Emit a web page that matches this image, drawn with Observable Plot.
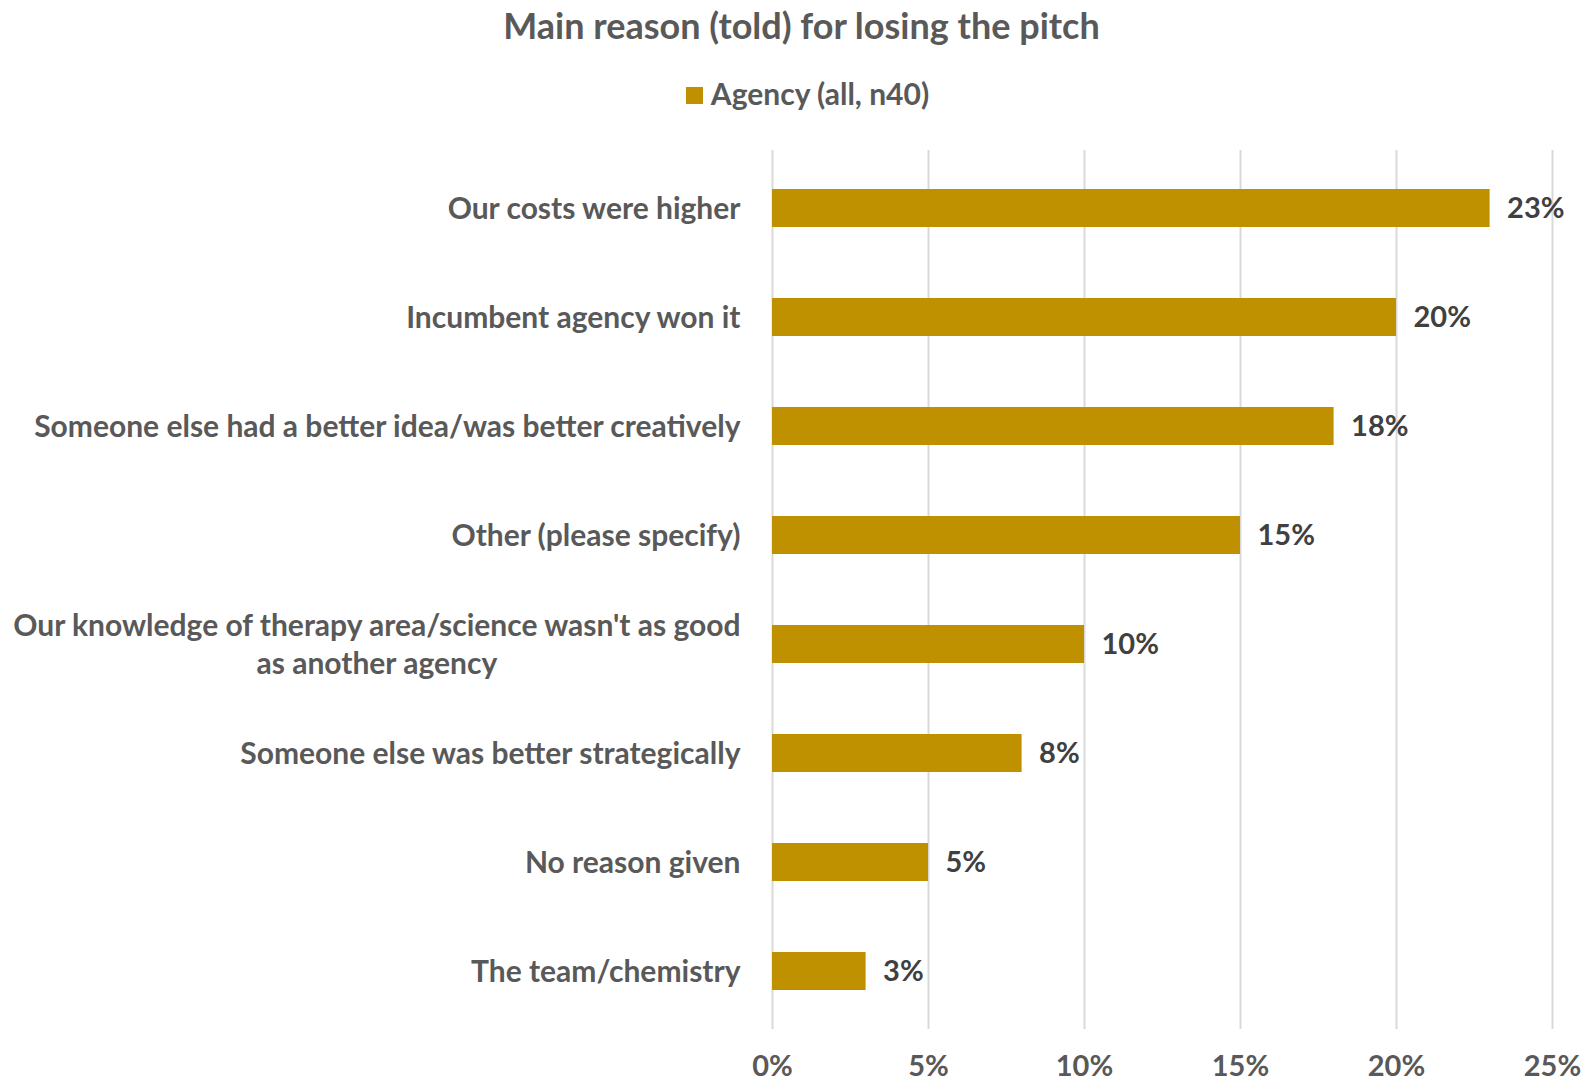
<!DOCTYPE html>
<html><head><meta charset="utf-8">
<script src="https://cdn.jsdelivr.net/npm/d3@7"></script>
<script src="https://cdn.jsdelivr.net/npm/@observablehq/plot@0.6"></script>
<style>
body{margin:0;background:#fff;font-family:Lato,"Open Sans",sans-serif;}
#wrap{width:1583px;height:1083px;position:relative;overflow:hidden;background:#fff}
#title{position:absolute;top:0;left:10px;width:1583px;height:50px;line-height:50px;text-align:center;font-weight:700;font-size:36px;color:#595959}
#legend{position:absolute;top:72px;left:16px;width:1583px;height:42px;line-height:42px;text-align:center;font-weight:700;font-size:30px;color:#595959}
#legend .sw{display:inline-block;width:17px;height:17px;background:#BF9000;margin-right:8px;vertical-align:middle;position:relative;top:-2px}
#chart{position:absolute;top:125px;left:0}
</style>
</head><body>
<div id="wrap">
  <div id="title">Main reason (told) for losing the pitch</div>
  <div id="legend"><span class="sw"></span>Agency (all, n40)</div>
  <div id="chart"></div>
</div>
<script>
const categories = [
  "Our costs were higher",
  "Incumbent agency won it",
  "Someone else had a better idea/was better creatively",
  "Other (please specify)",
  "Our knowledge of therapy area/science wasn't as good as another agency",
  "Someone else was better strategically",
  "No reason given",
  "The team/chemistry"
];
const categoryLabels = [
  "Our costs were higher",
  "Incumbent agency won it",
  "Someone else had a better idea/was better creatively",
  "Other (please specify)",
  "Our knowledge of therapy area/science wasn't as good\nas another agency",
  "Someone else was better strategically",
  "No reason given",
  "The team/chemistry"
];
const values = [23, 20, 18, 15, 10, 8, 5, 3];
const xTicks = [0, 5, 10, 15, 20, 25];
const seriesName = "Agency (all, n40)";

const rows = categories.map((c, i) => ({category: c, label: categoryLabels[i], value: values[i]}));
const labelOf = new Map(rows.map(r => [r.category, r.label]));

const chart = Plot.plot({
  width: 1583, height: 958,
  marginTop: 25, marginBottom: 54, marginLeft: 772, marginRight: 31,
  style: {fontFamily: "Lato, 'Open Sans', sans-serif", fontWeight: 700, fontSize: "30px", color: "#595959", background: "transparent", overflow: "visible"},
  x: {domain: [0, 25], ticks: xTicks},
  y: {domain: categories, paddingInner: 0.65, paddingOuter: 0.325},
  marks: [
    Plot.gridX(xTicks, {stroke: "#d9d9d9", strokeOpacity: 1, strokeWidth: 2}),
    Plot.barX(rows, {x: "value", y: "category", fill: "#BF9000"}),
    Plot.text(rows, {x: "value", y: "category", text: d => d.value + "%", textAnchor: "start", dx: 17, fill: "#404040", fontSize: 29, fontWeight: 700}),
    Plot.axisX(xTicks, {tickSize: 0, tickPadding: 26, tickFormat: d => d + "%", fill: "#595959", fontSize: 29, label: null}),
    Plot.axisY({tickSize: 0, tickPadding: 32, tickFormat: d => labelOf.get(d), fill: "#595959", fontSize: 30, lineHeight: 1.28, label: null, dy: -2})
  ]
});
document.getElementById("chart").appendChild(chart);

// center multi-line category labels like the original
chart.querySelectorAll('g[aria-label="y-axis tick label"] text').forEach(t => {
  const spans = t.querySelectorAll("tspan");
  if (spans.length > 1) {
    const w = spans[0].getComputedTextLength();
    t.setAttribute("text-anchor", "middle");
    spans.forEach(s => s.setAttribute("x", -w / 2));
  }
});
</script>
</body></html>
